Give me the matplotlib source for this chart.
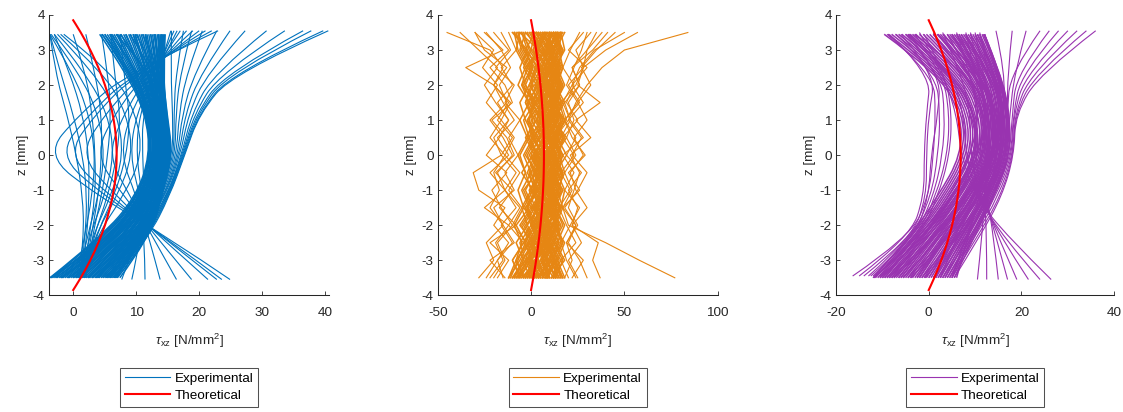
import matplotlib
matplotlib.use('Agg')
import matplotlib.pyplot as plt
from matplotlib.path import Path
from matplotlib.patches import PathPatch
from matplotlib.lines import Line2D

plt.rcParams['font.family'] = ['Liberation Sans', 'DejaVu Sans']
plt.rcParams['mathtext.fontset'] = 'custom'
plt.rcParams['mathtext.rm'] = 'Liberation Sans'
plt.rcParams['mathtext.it'] = 'Liberation Sans:italic'
plt.rcParams['mathtext.bf'] = 'Liberation Sans:bold'
plt.rcParams['axes.unicode_minus'] = False

FS = 9.7

# ---------------- Theoretical profile (same in every panel) ----------------
theo_z = [-3.85, -3.75, -3.5, -3.25, -3.0, -2.75, -2.5, -2.25, -2.0, -1.75, -1.5, -1.25, -1.0,
          -0.75, -0.5, -0.25, 0.0, 0.25, 0.5, 0.75, 1.0, 1.25, 1.5, 1.75, 2.0, 2.25, 2.5,
          2.75, 3.0, 3.25, 3.5, 3.75, 3.85]
theo_tau = [0.0, 0.35, 1.2, 1.98, 2.71, 3.38, 3.99, 4.54, 5.04, 5.47, 5.85, 6.17, 6.43,
            6.64, 6.78, 6.87, 6.9, 6.87, 6.78, 6.64, 6.43, 6.17, 5.85, 5.47, 5.04, 4.54, 3.99,
            3.38, 2.71, 1.98, 1.2, 0.35, 0.0]

# ---------------- Panel 1 (blue) : smooth experimental profiles ----------------
p1_band_z = [-3.5, -2.33, -1.17, 0.0, 1.17, 2.33, 3.45]
p1_band = [
    [-3.7, 4.5, 10.0, 12.2, 11.5, 8.5, 4.2],
    [-3.0, 5.0, 10.3, 12.4, 11.8, 9.0, 5.0],
    [-2.3, 5.6, 10.6, 12.6, 12.0, 9.6, 5.8],
    [-1.6, 6.0, 10.8, 12.9, 12.2, 10.0, 6.5],
    [-1.0, 6.5, 11.0, 13.1, 12.4, 10.5, 7.2],
    [-0.4, 7.0, 11.3, 13.3, 12.6, 11.0, 8.0],
    [0.2, 7.4, 11.5, 13.5, 12.8, 11.4, 8.8],
    [0.8, 7.9, 11.8, 13.7, 13.0, 11.8, 9.5],
    [1.4, 8.3, 12.0, 13.9, 13.2, 12.2, 10.2],
    [2.0, 8.8, 12.3, 14.1, 13.4, 12.5, 10.8],
    [2.6, 9.2, 12.5, 14.3, 13.6, 12.8, 11.4],
    [3.2, 9.7, 12.8, 14.5, 13.8, 13.1, 12.0],
    [3.8, 10.1, 13.0, 14.7, 14.0, 13.4, 12.6],
    [4.4, 10.6, 13.3, 14.9, 14.2, 13.7, 13.1],
    [5.0, 11.0, 13.5, 15.1, 14.4, 13.9, 13.6],
    [5.6, 11.4, 13.7, 15.3, 14.6, 14.1, 14.0],
    [6.2, 11.8, 13.9, 15.5, 14.7, 14.2, 14.3],
    [7.0, 12.2, 14.1, 15.7, 14.8, 14.3, 14.6],
    [6.5, 11.0, 13.2, 14.2, 13.0, 10.5, 6.0],
    [-2.8, 6.5, 11.8, 14.5, 14.2, 13.5, 13.0],
    [1.0, 9.5, 13.4, 15.4, 14.5, 13.0, 9.0],
    [4.0, 9.0, 12.0, 13.0, 12.0, 9.5, 5.0],
    [-1.8, 7.5, 12.5, 14.8, 14.0, 12.0, 7.5],
    [3.0, 10.5, 13.8, 15.6, 14.8, 14.0, 11.0],
    [-3.3, 5.8, 11.2, 13.6, 13.3, 11.8, 9.8],
    [5.3, 10.2, 12.8, 13.8, 12.6, 11.2, 8.3],
    [0.5, 8.6, 12.9, 14.9, 13.9, 12.6, 6.8],
    [2.3, 9.9, 13.6, 15.2, 14.3, 13.6, 12.3],
    [-3.5, 4.8, 10.2, 12.3, 11.6, 8.8, 4.6],
    [-2.6, 5.3, 10.4, 12.5, 11.9, 9.3, 5.4],
    [-2.0, 5.8, 10.7, 12.8, 12.1, 9.8, 6.2],
    [-1.3, 6.3, 10.9, 13.0, 12.3, 10.2, 6.9],
    [-0.7, 6.8, 11.2, 13.2, 12.5, 10.8, 7.6],
    [-0.1, 7.2, 11.4, 13.4, 12.7, 11.2, 8.4],
    [0.5, 7.6, 11.6, 13.6, 12.9, 11.6, 9.1],
    [1.1, 8.1, 11.9, 13.8, 13.1, 12.0, 9.8],
    [1.7, 8.6, 12.2, 14.0, 13.3, 12.4, 10.5],
    [2.3, 9.0, 12.4, 14.2, 13.5, 12.7, 11.1],
    [2.9, 9.5, 12.7, 14.4, 13.7, 13.0, 11.7],
    [3.5, 9.9, 12.9, 14.6, 13.9, 13.3, 12.3],
    [4.1, 10.4, 13.2, 14.8, 14.1, 13.6, 12.9],
    [4.7, 10.8, 13.4, 15.0, 14.3, 13.8, 13.4],
    [5.3, 11.2, 13.6, 15.2, 14.5, 14.0, 13.8],
    [5.9, 11.6, 13.8, 15.4, 14.6, 14.2, 14.2],
    [6.6, 12.0, 14.0, 15.6, 14.7, 14.3, 14.5],
    [7.4, 12.2, 14.0, 15.4, 14.5, 14.0, 13.5],
    [-3.6, 6.0, 11.5, 14.0, 13.8, 12.8, 11.5],
    [-2.0, 7.0, 12.2, 14.6, 14.3, 13.8, 14.0],
    [0.0, 8.0, 12.6, 14.2, 12.5, 9.0, 4.6],
    [2.5, 8.3, 11.5, 12.6, 11.6, 9.0, 5.8],
    [5.8, 10.5, 12.6, 13.5, 12.2, 10.0, 7.0],
    [-0.8, 8.8, 13.2, 15.5, 14.6, 13.2, 10.0],
    [3.6, 10.8, 13.9, 15.8, 14.9, 14.2, 12.8],
    [6.8, 11.4, 13.4, 14.4, 13.4, 12.0, 9.5],
]

p1_fan_z = [-3.5, -2.33, -1.17, 0.0, 1.17, 2.33, 3.55]
p1_fan = [
    [3.0, 9.0, 13.5, 15.8, 15.8, 15.5, 15.6],
    [3.5, 9.5, 13.8, 16.0, 16.0, 16.3, 17.5],
    [4.0, 9.8, 14.0, 16.2, 16.3, 17.0, 18.8],
    [4.5, 10.0, 14.2, 16.4, 16.8, 18.0, 20.5],
    [4.8, 10.3, 14.4, 16.6, 17.3, 19.2, 22.8],
    [5.2, 10.5, 14.5, 16.8, 17.8, 20.2, 24.9],
    [5.5, 10.8, 14.6, 17.0, 18.3, 21.2, 27.3],
    [5.8, 11.0, 14.8, 17.2, 18.8, 22.3, 30.7],
    [6.0, 11.2, 14.9, 17.3, 19.2, 23.2, 33.6],
    [6.3, 11.4, 15.0, 17.4, 19.5, 24.0, 36.5],
    [6.5, 11.6, 15.1, 17.5, 19.7, 24.5, 37.8],
    [6.7, 11.8, 15.2, 17.6, 19.9, 25.0, 39.7],
    [7.0, 12.0, 15.3, 17.7, 20.0, 25.3, 40.5],
]

p1_arc_z = [-3.55, -2.33, -1.17, 0.0, 1.17, 2.33, 3.55]
p1_arc = [
    [24.9, 14.9, 4.0, -4.5, 1.0, 8.5, 23.0],
    [23.6, 14.5, 5.0, -2.5, 2.5, 9.5, 22.0],
    [22.8, 14.2, 5.8, -1.0, 3.5, 10.0, 21.0],
    [21.4, 13.8, 6.8, 1.0, 5.0, 11.0, 20.0],
    [18.8, 13.2, 8.0, 3.5, 6.5, 11.5, 19.0],
    [16.4, 12.6, 9.0, 5.5, 8.0, 12.0, 18.0],
    [13.8, 12.0, 10.0, 7.5, 9.0, 12.5, 17.0],
    [11.4, 11.3, 10.6, 9.0, 10.0, 13.0, 16.5],
    [9.3, 10.8, 11.0, 10.0, 10.5, 13.0, 16.0],
    [7.7, 10.3, 11.3, 11.0, 11.0, 13.5, 15.5],
]

p1_left_z = [-3.5, -2.33, -1.17, 0.0, 1.17, 2.33, 3.45]
p1_left = [
    [0.5, 1.8, 3.0, 3.5, 2.5, 0.0, -3.7],
    [0.8, 2.2, 4.0, 5.0, 4.0, 1.0, -3.5],
    [1.0, 2.5, 5.0, 6.5, 5.5, 2.0, -3.0],
    [1.2, 3.0, 6.0, 8.0, 7.0, 3.5, -2.5],
    [1.4, 3.3, 7.0, 9.5, 8.5, 5.0, -2.0],
    [1.5, 3.6, 8.0, 11.0, 10.0, 6.5, -1.5],
    [1.3, 2.2, 2.5, 2.5, 1.5, -0.5, -3.0],
    [1.6, 2.5, 3.5, 3.5, 3.0, 2.0, 0.0],
    [1.8, 2.8, 4.0, 4.5, 4.5, 3.5, 2.0],
    [2.0, 3.0, 4.5, 5.5, 6.0, 5.5, 4.5],
    [1.2, 1.9, 2.2, 1.5, 0.0, -2.0, -3.7],
    [1.0, 1.7, 1.5, 0.5, -1.0, -2.8, -3.7],
    [1.7, 3.2, 5.5, 7.0, 7.5, 6.5, 6.0],
    [1.9, 3.5, 6.5, 8.5, 9.0, 8.0, 7.5],
]

# ---------------- Panel 2 (orange) : noisy experimental profiles ----------------
p2_z = [-3.5, -3.0, -2.5, -2.0, -1.5, -1.0, -0.5, 0.0, 0.5, 1.0, 1.5, 2.0, 2.5, 3.0, 3.5]
p2_core = [
    [-10, -4, -8, -2, -5, 0, -3, -6, -1, -4, 2, -5, -2, -7, -9],
    [-6, 0, -3, 2, -2, 3, 0, 4, -1, 2, -3, 1, -4, 0, -5],
    [-2, 4, 1, 5, 2, 7, 3, 6, 2, 5, 1, 6, 0, 3, -2],
    [2, 6, 3, 8, 5, 9, 6, 8, 4, 9, 5, 8, 3, 6, 1],
    [5, 9, 6, 10, 7, 11, 8, 10, 7, 11, 8, 10, 6, 9, 4],
    [8, 12, 9, 13, 10, 14, 11, 13, 10, 14, 11, 12, 9, 11, 7],
    [12, 14, 11, 15, 12, 16, 13, 15, 12, 16, 13, 15, 12, 14, 10],
    [15, 11, 16, 13, 17, 14, 18, 15, 17, 14, 16, 13, 15, 16, 14],
    [0, -5, 3, -2, 4, 1, 6, 2, 7, 3, 5, -1, 4, -3, 2],
    [10, 5, 12, 7, 13, 9, 15, 10, 14, 8, 13, 7, 11, 6, 12],
    [-8, -1, 2, -3, 5, 0, 4, 9, 3, 7, 0, 5, -2, 4, -6],
    [14, 8, 4, 10, 6, 12, 8, 3, 9, 5, 11, 14, 9, 15, 16],
    [3, 10, 14, 8, 16, 12, 17, 13, 19, 12, 17, 11, 16, 10, 13],
    [-4, 2, 7, 1, 8, 3, 10, 5, 11, 6, 9, 2, 8, 1, 5],
    [7, 1, -2, 4, 0, 6, 1, 7, 0, 5, -1, 3, -3, 4, 8],
    [16, 12, 8, 13, 9, 15, 11, 16, 12, 17, 13, 18, 14, 11, 17],
    [-12, -6, -1, -5, 1, -3, 2, -2, 3, -1, 1, -4, 0, -5, -8],
    [9, 13, 7, 11, 4, 9, 5, 11, 6, 12, 7, 13, 8, 12, 15],
    [1, -3, 5, 0, 7, 2, 9, 4, 10, 5, 8, 3, 10, 7, 3],
    [12, 6, 10, 4, 11, 6, 13, 7, 14, 9, 15, 10, 16, 12, 9],
    [-3, 3, -1, 6, 1, 8, 4, 10, 5, 9, 4, 7, 2, 8, 11],
    [6, 11, 15, 9, 14, 10, 16, 11, 15, 10, 14, 17, 12, 5, -1],
    [4, 0, 6, 2, 9, 5, 12, 7, 13, 8, 12, 6, 10, 13, 6],
    [-7, -2, 4, 0, 3, 7, 2, 6, 1, 8, 3, 9, 5, -1, -4],
    [11, 16, 10, 14, 8, 13, 7, 12, 9, 15, 10, 16, 11, 14, 13],
    [-1, 7, 3, 9, 6, 2, 8, 4, 12, 7, 2, 9, 6, 10, 4],
    [13, 9, 15, 11, 16, 18, 14, 17, 13, 18, 15, 12, 16, 9, 15],
    [-9, -3, 0, 4, -2, 2, -1, 3, -2, 1, -3, 0, 2, -4, -7],
    [8, 3, 9, 14, 10, 5, 11, 16, 10, 13, 7, 12, 7, 11, 10],
    [17, 13, 17, 12, 15, 10, 16, 12, 17, 11, 16, 14, 17, 15, 12],
    [-5, 3, -1, 7, 2, 10, 4, 12, 6, 0, 8, 3, 11, 5, 0],
    [9, 2, 11, 5, 14, 8, 3, 9, 15, 10, 4, 12, 7, 13, 6],
    [-11, -7, -3, -8, -1, -5, 0, -4, 1, -2, 3, -3, -6, -2, -10],
    [13, 17, 12, 16, 11, 15, 17, 11, 16, 12, 18, 13, 17, 12, 16],
    [0, 5, 9, 3, 7, 12, 6, 1, 7, 11, 5, 10, 4, 9, 2],
    [-8, -2, 1, -4, 2, -1, 5, 0, 4, -2, 6, 1, -1, -6, -3],
    [6, 13, 8, 15, 10, 6, 12, 17, 11, 7, 14, 9, 15, 8, 14],
    [3, -1, 4, 10, 3, 8, 2, 7, 13, 6, 10, 4, 9, 2, 8],
    [17, 12, 7, 12, 16, 9, 14, 8, 12, 16, 10, 15, 10, 16, 11],
    [-6, -10, -4, 1, -3, 3, -2, 2, -3, 3, -1, -5, 1, -3, -9],
    [10, 7, 13, 9, 2, 10, 5, 13, 8, 14, 9, 4, 11, 15, 3],
    [-2, 2, 8, 4, 11, 6, 9, 3, 10, 4, 12, 7, 5, 1, 7],
    [15, 10, 14, 18, 13, 17, 10, 15, 11, 17, 13, 16, 13, 18, 16],
    [1, 8, 5, 0, 6, 4, 10, 6, 1, 8, 2, 8, 14, 8, 10],
    [-4, -8, -1, 3, -4, 1, -5, 1, 7, 2, -2, 4, -1, 5, -3],
    [7, 4, 1, 7, 12, 8, 13, 9, 16, 11, 15, 9, 13, 7, 3],
    [12, 15, 9, 14, 7, 12, 6, 14, 9, 13, 6, 11, 16, 10, 14],
    [-9, -5, 1, -6, 0, -4, 3, -3, 2, -3, -6, -1, 3, -2, -5],
    [4, 11, 6, 12, 3, 8, 14, 5, 11, 3, 9, 15, 9, 3, 9],
    [14, 11, 17, 14, 9, 13, 7, 11, 6, 10, 12, 16, 11, 17, 13],
    [-3, 1, -4, 3, 6, 1, 5, -1, 5, 10, 4, 0, 6, 0, 2],
    [8, 14, 10, 6, 10, 16, 10, 14, 8, 15, 11, 6, 12, 9, 16],
    [2, -2, 7, 11, 6, 12, 5, 10, 14, 9, 13, 8, 14, 11, 5],
    [-10, -3, -6, 0, -3, 4, 0, 6, 2, -1, 2, -3, 1, -4, -7],
    [11, 18, 13, 8, 15, 11, 16, 10, 13, 17, 12, 17, 13, 10, 14],
    [5, 0, 8, 3, 10, 4, 7, 2, 8, 3, 6, 11, 5, 10, 7],
    [16, 13, 9, 15, 11, 17, 12, 8, 14, 9, 14, 8, 14, 17, 12],
    [-7, 0, 5, 1, -2, 4, 9, 3, -1, 6, 0, 7, 3, 7, 1],
    [9, 6, 12, 17, 13, 7, 13, 19, 14, 18, 12, 16, 10, 7, 12],
    [18, 14, 18, 12, 16, 12, 17, 13, 18, 12, 15, 11, 14, 17, 10],
    [-1, 4, 0, 6, 9, 5, 2, 8, 4, 10, 7, 2, 7, 12, 8],
    [-12, -8, -5, -9, -4, -7, -3, -7, -2, -6, -1, -7, -3, -8, -6],
    [13, 8, 12, 6, 9, 14, 9, 13, 9, 13, 10, 15, 10, 13, 18],
    [4, 9, 2, 6, 1, 6, 11, 6, 14, 7, 12, 6, 12, 4, 0],
]
p2_outer = [
    [6, 10, 4, 12, 8, 14, 10, 16, 13, 20, 24, 30, 38, 50, 84],
    [2, 9, 4, 11, 6, 13, 9, 15, 12, 19, 16, 24, 28, 40, 57],
    [8, 3, 10, 5, 12, 7, 14, 9, 16, 21, 18, 26, 22, 33, 41],
    [-5, -10, -4, -12, -6, -14, -8, -16, -10, -18, -12, -20, -15, -22, -45],
    [-3, -8, -2, -10, -5, -12, -6, -14, -9, -16, -11, -20, -35, -15, -25],
    [-15, -18, -12, -20, -14, -28, -31, -16, -20, -12, -18, -10, -16, -8, -12],
    [18, 22, 19, 25, 20, 23, 26, 21, 32, 24, 37, 25, 28, 30, 35],
    [77, 58, 40, 20, 17, 22, 18, 24, 19, 23, 20, 26, 22, 30, 38],
    [37, 33, 36, 22, 25, 20, 27, 19, 24, 18, 26, 20, 28, 24, 32],
    [-28, -20, -24, -15, -22, -17, -20, -14, -22, -16, -24, -18, -26, -20, -30],
    [-20, -14, -18, -10, -16, -21, -13, -24, -17, -12, -19, -25, -18, -28, -38],
    [25, 20, 27, 22, 30, 24, 21, 28, 23, 30, 25, 32, 27, 35, 45],
    [-24, -18, -10, -16, -8, -14, -22, -12, -18, -9, -15, -20, -13, -25, -30],
    [30, 26, 20, 24, 18, 25, 30, 22, 27, 20, 28, 22, 26, 34, 50],
    [-18, -12, -22, -8, -17, -10, -19, -9, -13, -21, -10, -14, -22, -12, -20],
    [22, 28, 19, 24, 17, 26, 20, 29, 22, 18, 25, 19, 23, 27, 30],
    [-14, -22, -9, -15, -20, -9, -14, -7, -12, -6, -14, -9, -19, -11, -16],
    [20, 16, 24, 19, 15, 21, 16, 23, 17, 25, 19, 23, 17, 21, 26],
    [-22, -15, -19, -12, -25, -14, -18, -10, -15, -22, -13, -17, -11, -16, -24],
    [24, 19, 16, 21, 26, 18, 23, 17, 28, 21, 17, 22, 30, 20, 28],
]

# ---------------- Panel 3 (purple) : smooth experimental profiles ----------------
p3_band_z = [-3.5, -2.33, -1.17, 0.0, 1.17, 2.33, 3.45]
p3_band = [
    [-12, -4, 2, 7, 7, 2, -9.6],
    [-11, -3, 3, 8, 8, 3, -8],
    [-10, -2.5, 4, 9, 9, 4, -6.5],
    [-9, -1.5, 5, 10, 10, 5, -5],
    [-8, -1, 5.5, 10.5, 10.5, 6, -3.5],
    [-7, 0, 6.5, 11.5, 11.5, 7, -2],
    [-6, 1, 7.5, 12, 12, 8, -0.5],
    [-5, 2, 8, 12.5, 12.5, 9, 1],
    [-4, 2.5, 8.5, 13, 13, 10, 2.5],
    [-3, 3.5, 9.5, 13.5, 13.5, 11, 4],
    [-2, 4, 10, 14, 14, 11.5, 5],
    [-1, 5, 10.5, 14.5, 14.5, 12, 6],
    [0, 5.5, 11, 15, 15, 13, 7],
    [1, 6.5, 12, 15.5, 15.5, 13.5, 8],
    [2, 7, 12.5, 16, 16, 14, 9],
    [3, 8, 13, 16.5, 16.5, 14.5, 10],
    [4, 9, 13.5, 17, 17, 15, 11],
    [5, 9.5, 14, 17.5, 17.5, 15.5, 12],
    [-10.5, -1, 6, 12, 14, 12, 7],
    [-7.5, 1.5, 9, 14.5, 15, 11, 3],
    [-4.5, 4, 11, 15.5, 14, 8, -3],
    [-1.5, 6, 12, 16, 16.5, 14, 11],
    [-9.5, -2, 4.5, 9, 11, 9, 4],
    [-6.5, 0.5, 8, 13.5, 15.5, 14, 9],
    [1.5, 5.5, 10, 13, 12, 8, 1],
    [6, 8.5, 11, 13, 13, 10, 5],
    [-2.5, 3, 9, 14, 16, 15, 12],
    [-8.5, 0, 7, 11, 10, 5, -4],
    [3.5, 8.5, 12.5, 15, 14, 11, 6.5],
    [-5.5, 2.5, 10, 15, 16.5, 13, 8],
    [-11.5, -3.5, 2.5, 7.5, 7.5, 2.5, -8.8],
    [-10.5, -2.8, 3.5, 8.5, 8.5, 3.5, -7.2],
    [-9.5, -2, 4.5, 9.5, 9.5, 4.5, -5.8],
    [-8.5, -1.2, 5.2, 10.2, 10.2, 5.5, -4.2],
    [-7.5, -0.5, 6, 11, 11, 6.5, -2.8],
    [-6.5, 0.5, 7, 11.8, 11.8, 7.5, -1.2],
    [-5.5, 1.5, 7.8, 12.2, 12.2, 8.5, 0.2],
    [-4.5, 2.2, 8.2, 12.8, 12.8, 9.5, 1.8],
    [-3.5, 3, 9, 13.2, 13.2, 10.5, 3.2],
    [-2.5, 3.8, 9.8, 13.8, 13.8, 11.2, 4.5],
    [-1.5, 4.5, 10.2, 14.2, 14.2, 11.8, 5.5],
    [-0.5, 5.2, 10.8, 14.8, 14.8, 12.5, 6.5],
    [0.5, 6, 11.5, 15.2, 15.2, 13.2, 7.5],
    [1.5, 6.8, 12.2, 15.8, 15.8, 13.8, 8.5],
    [2.5, 7.5, 12.8, 16.2, 16.2, 14.2, 9.5],
    [3.5, 8.5, 13.2, 16.8, 16.8, 14.8, 10.5],
    [4.5, 9.2, 13.8, 17.2, 17.2, 15.2, 11.5],
    [5.5, 9.8, 14.2, 17.5, 17.3, 15.5, 11.8],
    [-11.8, -2, 5, 10.5, 12.5, 10.5, 5],
    [-8, 1, 8.5, 13.8, 15.8, 14.5, 10],
    [-3.8, 4.5, 11.5, 16, 15, 10, 2],
    [-0.8, 6.5, 12.5, 16.5, 17, 15, 12],
    [-10, -1.5, 5.5, 11, 12.5, 11, 6],
    [-6, 1, 8.5, 14, 16, 14.5, 10.5],
    [2.5, 6, 10.5, 13.5, 12.5, 9, 2],
    [5, 8, 11.5, 14, 14.5, 12, 8],
    [-2, 3.5, 9.5, 14.5, 16.5, 15.5, 12],
    [-9, -0.5, 6.5, 10.5, 9.5, 4.5, -4.5],
]
p3_left_z = [-3.45, -2.33, -1.17, 0.0, 1.17, 2.33, 3.45]
p3_left = [
    [-16.4, -4, 0, 1, 1.5, 1, -9],
    [-14, -3.5, 0.5, 2, 2.5, 1.5, -7],
    [-12.5, -3, 1, 3, 3.5, 2.5, -5],
    [-11.5, -2.5, 1.5, 4, 4.5, 3, -3],
    [-13, -3.5, -0.5, -0.5, 0, 1.5, -6],
    [-10.5, -2, 2, 4.5, 5, 3.5, -1],
    [-12, -3, 0, 0.5, 2, 2.5, -4.5],
    [-15, -4, -1, -1, -0.5, 0.5, -8.5],
]
p3_fan_z = [-3.5, -2.33, -1.17, 0.0, 1.17, 2.33, 3.55]
p3_fan = [
    [2, 8, 13.5, 17.5, 18, 19, 26],
    [3, 9, 14, 17.8, 18.2, 20, 28],
    [4, 9.5, 14.5, 18, 18.3, 21, 30],
    [4.5, 10, 15, 18.2, 18.5, 22, 32],
    [5, 10.5, 15.5, 18.3, 18.6, 23, 34],
    [5.5, 11, 15.8, 18.4, 18.7, 24, 36],
    [1, 7, 12.5, 16.5, 17, 17, 18],
    [3, 8, 13, 16.8, 17.5, 18.5, 21],
    [2.5, 7.5, 12, 15.5, 16, 16.5, 14.5],
    [0, 6, 12, 16, 17, 17.5, 24],
]
p3_low_z = [-3.55, -2.33, -1.17, 0.0, 1.17, 2.33, 3.5]
p3_low = [
    [26.4, 17, 10, 7, 6, 3, -2],
    [24, 16, 10.5, 8, 7.5, 5, 1],
    [21.5, 15.5, 11, 9, 9, 7, 3],
    [19, 15, 11.5, 10, 10.5, 9, 6],
    [17, 14.5, 12, 11, 11.5, 10, 8],
    [15, 14, 12.5, 12, 12.5, 11, 9],
    [12.5, 12.5, 12, 12.5, 13, 12, 10],
    [10.5, 11.5, 12, 13, 14, 13, 11],
]

# ---------------- appearance ----------------
blue = '#0072BD'
orange = '#E68613'
purple = '#9933B0'
red = '#FF0000'
dark = '#262626'
EXP_LW = 0.8
DENSE_LW = 1.1
x_limits = [(-3.85, 40.6), (-50, 100), (-20, 40)]
x_ticks = [[0, 10, 20, 30, 40], [-50, 0, 50, 100], [-20, 0, 20, 40]]


def smooth_path(taus, zs):
    """Quadratic B-spline style path rendered by matplotlib (CURVE3 segments)."""
    n = len(taus)
    verts = [(taus[0], zs[0])]
    codes = [Path.MOVETO]
    for i in range(1, n - 1):
        if i == n - 2:
            end = (taus[-1], zs[-1])
        else:
            end = ((taus[i] + taus[i + 1]) / 2.0, (zs[i] + zs[i + 1]) / 2.0)
        verts += [(taus[i], zs[i]), end]
        codes += [Path.CURVE3, Path.CURVE3]
    return Path(verts, codes)


def add_smooth(ax, groups, color):
    for zs, curves, lw in groups:
        for taus in curves:
            ax.add_patch(PathPatch(smooth_path(taus, zs), facecolor='none',
                                   edgecolor=color, lw=lw, zorder=2))


fig = plt.figure(figsize=(11.23, 4.12), dpi=100)
positions = [(0.0436, 0.2833, 0.2493, 0.6803),
             (0.3898, 0.2833, 0.2493, 0.6803),
             (0.7444, 0.2833, 0.2478, 0.6803)]
axes = [fig.add_axes(p) for p in positions]
colors = [blue, orange, purple]

add_smooth(axes[0], [(p1_band_z, p1_band, DENSE_LW), (p1_fan_z, p1_fan, EXP_LW),
                     (p1_arc_z, p1_arc, EXP_LW), (p1_left_z, p1_left, EXP_LW)], blue)
for taus in p2_core:
    axes[1].plot(taus, p2_z, color=orange, lw=DENSE_LW, zorder=2)
for taus in p2_outer:
    axes[1].plot(taus, p2_z, color=orange, lw=EXP_LW, zorder=2)
add_smooth(axes[2], [(p3_band_z, p3_band, DENSE_LW), (p3_left_z, p3_left, EXP_LW),
                     (p3_fan_z, p3_fan, EXP_LW), (p3_low_z, p3_low, EXP_LW)], purple)

for i, ax in enumerate(axes):
    ax.plot(theo_tau, theo_z, color=red, lw=1.5, zorder=3)
    ax.set_xlim(*x_limits[i])
    ax.set_ylim(-4, 4)
    ax.set_xticks(x_ticks[i])
    ax.set_yticks(range(-4, 5))
    for s in ['top', 'right']:
        ax.spines[s].set_visible(False)
    for s in ['left', 'bottom']:
        ax.spines[s].set_color(dark)
        ax.spines[s].set_linewidth(0.75)
    ax.tick_params(direction='in', length=3, width=0.6, colors=dark, labelsize=FS)
    ax.tick_params(axis='x', pad=8.5)
    ax.tick_params(axis='y', pad=3)
    ax.set_ylabel('z [mm]', fontsize=FS, color=dark, labelpad=3)
    ax.set_xlabel(r'$\tau_{\mathrm{xz}}$ [N/mm$^{2}$]', fontsize=FS, color=dark, labelpad=9)
    handles = [Line2D([], [], color=colors[i], lw=EXP_LW),
               Line2D([], [], color=red, lw=1.5)]
    leg = ax.legend(handles, ['Experimental', 'Theoretical'], loc='upper center',
                    bbox_to_anchor=(0.5, -0.258), fontsize=FS, frameon=True,
                    fancybox=False, edgecolor=dark, handlelength=3.4,
                    handletextpad=0.3, labelspacing=0.35, borderpad=0.35,
                    borderaxespad=0)
    leg.get_frame().set_linewidth(0.75)

fig.savefig('out.png', dpi=100)
